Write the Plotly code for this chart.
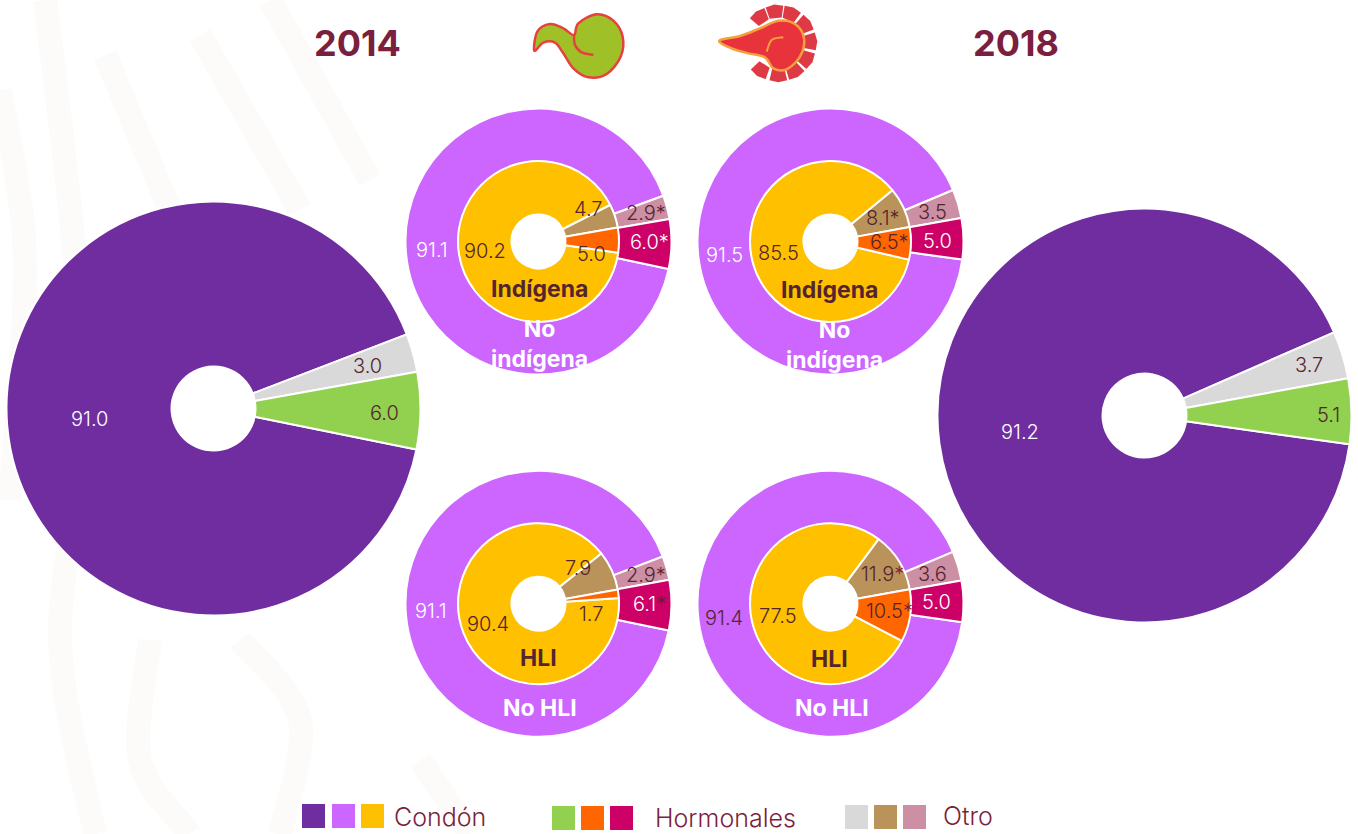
import math
import plotly.graph_objects as go

W, H = 1358, 834
FONT = "Inter"
DARK = "#55252F"
WINE = "#7A1F3D"

PURPLE, LILAC, YELLOW = "#6F2DA0", "#CC66FF", "#FFC000"
GREEN, ORANGE, MAGENTA = "#92D050", "#FF6600", "#CC0066"
GRAY, TAN, PINK = "#D9D9D9", "#BA935A", "#CC8FA3"

# ---- data -------------------------------------------------------------
total_2014 = [91.0, 3.0, 6.0]
total_2018 = [91.2, 3.7, 5.1]
noind_2014 = [91.1, 2.9, 6.0]
ind_2014 = [90.2, 4.7, 5.0]
noind_2018 = [91.5, 3.5, 5.0]
ind_2018 = [85.5, 8.1, 6.5]
nohli_2014 = [91.1, 2.9, 6.1]
hli_2014 = [90.4, 7.9, 1.7]
nohli_2018 = [91.4, 3.6, 5.0]
hli_2018 = [77.5, 11.9, 10.5]
method_names = ["Condón", "Otro", "Hormonales"]
years = ["2014", "2018"]
legend_names = ["Condón", "Hormonales", "Otro"]

# ---- layout helpers ----------------------------------------------------
def fx(px):
    return px / W

def fy(py):
    return 1 - py / H

def pie(values, colors, cx, cy, r, hole, rot):
    return go.Pie(
        values=values, labels=method_names, sort=False, direction="clockwise",
        rotation=rot, hole=hole, textinfo="none", hoverinfo="label+value",
        marker=dict(colors=colors, line=dict(color="white", width=2)),
        domain=dict(x=[fx(cx - r), fx(cx + r)], y=[fy(cy + r), fy(cy - r)]),
        showlegend=False,
    )

def note(text, x, y, size=20, color=DARK, weight=None):
    return dict(
        text=text, x=fx(x), y=fy(y), xref="paper", yref="paper",
        xanchor="center", yanchor="middle", showarrow=False,
        font=dict(family=FONT, size=size, color=color, weight=weight),
    )

def smooth(points, closed=True, glyph=True):
    if glyph:
        pts = [(fx(500 + a / 3), fy(b / 3)) for a, b in points]
    else:
        pts = [(fx(a), fy(b)) for a, b in points]
    n = len(pts)
    s = f"M{pts[0][0]:.5f},{pts[0][1]:.5f}"
    for i in range(n if closed else n - 1):
        if closed:
            p0, p1, p2, p3 = pts[(i - 1) % n], pts[i], pts[(i + 1) % n], pts[(i + 2) % n]
        else:
            p0, p1, p2, p3 = pts[max(i - 1, 0)], pts[i], pts[i + 1], pts[min(i + 2, n - 1)]
        c1 = (p1[0] + (p2[0] - p0[0]) / 6, p1[1] + (p2[1] - p0[1]) / 6)
        c2 = (p2[0] - (p3[0] - p1[0]) / 6, p2[1] - (p3[1] - p1[1]) / 6)
        s += f"C{c1[0]:.5f},{c1[1]:.5f} {c2[0]:.5f},{c2[1]:.5f} {p2[0]:.5f},{p2[1]:.5f}"
    return s + ("Z" if closed else "")

# ---- pies --------------------------------------------------------------
traces = [
    pie(total_2014, [PURPLE, GRAY, GREEN], 213.5, 408.5, 207, 42 / 207, 101.4),
    pie(total_2018, [PURPLE, GRAY, GREEN], 1144.5, 415.5, 207, 42 / 207, 98),
    pie(noind_2014, [LILAC, PINK, MAGENTA], 538.5, 241.5, 133, 80 / 133, 101.9),
    pie(ind_2014, [YELLOW, TAN, ORANGE], 538.5, 241.5, 80.5, 27 / 80.5, 98),
    pie(noind_2018, [LILAC, PINK, MAGENTA], 830.5, 241.5, 133, 80 / 133, 97.8),
    pie(ind_2018, [YELLOW, TAN, ORANGE], 830.5, 241.5, 80.5, 27 / 80.5, 103),
    pie(nohli_2014, [LILAC, PINK, MAGENTA], 538.5, 603.7, 133, 80 / 133, 101.6),
    pie(hli_2014, [YELLOW, TAN, ORANGE], 538.5, 603.7, 80.5, 27 / 80.5, 86),
    pie(nohli_2018, [LILAC, PINK, MAGENTA], 830.5, 603.7, 133, 80 / 133, 98),
    pie(hli_2018, [YELLOW, TAN, ORANGE], 830.5, 603.7, 80.5, 27 / 80.5, 117.5),
]

fig = go.Figure(traces)

# ---- value labels (values, pixel placement, colour, asterisk colour) ---
WHITE = "#FFFFFF"
def put(values, places):
    out = []
    for v, place in zip(values, places):
        x, y, col = place[:3]
        txt = f"{v:.1f}"
        if len(place) > 3:
            txt += f"<span style='color:{place[3]}'>*</span>"
        out.append(note(txt, x, y, 20, col, weight=300))
    return out

ann = []
ann += put(total_2014, [(89, 419, WHITE), (367, 366, DARK), (384, 413, DARK)])
ann += put(total_2018, [(1020, 432, WHITE), (1309, 365, DARK), (1328, 415, DARK)])
ann += put(noind_2014, [(432, 250, WHITE), (646, 213, DARK, DARK), (649, 242, WHITE, WHITE)])
ann += put(ind_2014, [(485, 251, DARK), (588, 209, DARK), (591, 254, DARK)])
ann += put(noind_2018, [(724, 255, WHITE), (932, 212, DARK), (937, 241, WHITE)])
ann += put(ind_2018, [(778, 253, DARK), (883, 218, DARK, DARK), (889, 242, DARK, DARK)])
ann += put(nohli_2014, [(431, 611, WHITE), (646, 575, DARK, DARK), (649, 604, WHITE, DARK)])
ann += put(hli_2014, [(488, 624, DARK), (578, 568, DARK), (591, 614, DARK)])
ann += put(nohli_2018, [(724, 618, DARK), (932, 574, DARK), (936, 602, WHITE)])
ann += put(hli_2018, [(778, 616, DARK), (882, 574, DARK, WINE), (889, 611, DARK, WINE)])

# group names
for txt, x, y, col in [
    ("Indígena", 539, 289, DARK), ("No<br>indígena", 539, 344, WHITE),
    ("Indígena", 829, 290, DARK), ("No<br>indígena", 834, 344.5, WHITE),
    ("HLI", 538, 658, DARK), ("No HLI", 540, 708, WHITE),
    ("HLI", 829, 659, DARK), ("No HLI", 832, 708, WHITE),
]:
    ann.append(note(txt, x, y, 23, col, weight=700))

# years
ann.append(note(years[0], 357, 43, 36, WINE, weight=700))
ann.append(note(years[1], 1016, 43, 36, WINE, weight=700))

# legend text
for txt, x, y in zip(legend_names, [440, 725, 968], [817, 817.5, 816]):
    ann.append(note(txt, x, y, 25, WINE, weight=300))

# ---- shapes ------------------------------------------------------------
shapes = []

# faint watermark
for pts in [
    [(45, 0), (70, 210), (85, 420), (60, 640), (95, 834)],
    [(105, 55), (170, 210)],
    [(200, 35), (300, 210)],
    [(270, 0), (370, 180)],
    [(0, 90), (25, 260), (10, 500)],
    [(240, 640), (300, 720), (280, 834)],
    [(420, 760), (470, 834)],
    [(150, 640), (140, 760), (190, 834)],
]:
    shapes.append(dict(type="path", path=smooth(pts, closed=False, glyph=False),
                       xref="paper", yref="paper", layer="below",
                       line=dict(color="rgba(235,215,190,0.09)", width=24)))

# legend squares
for x0, y0, col in [
    (302, 804, PURPLE), (332, 804, LILAC), (361, 804, YELLOW),
    (552, 806, GREEN), (581, 806, ORANGE), (610, 806, MAGENTA),
    (845, 805, GRAY), (874, 805, TAN), (903, 805, PINK),
]:
    shapes.append(dict(type="rect", xref="paper", yref="paper", x0=fx(x0), x1=fx(x0 + 23),
                       y0=fy(y0 + 24), y1=fy(y0), fillcolor=col, line=dict(width=0)))

# green speech glyph
shapes.append(dict(type="path", xref="paper", yref="paper", fillcolor="#9FC127",
    line=dict(color="#E8403E", width=2.5),
    path=smooth([(103, 152), (112, 95), (150, 72), (190, 85), (222, 105), (235, 70), (290, 43),
                 (340, 62), (368, 110), (362, 170), (320, 222), (265, 232), (220, 205),
                 (190, 160), (165, 128), (130, 128)])))
shapes.append(dict(type="path", xref="paper", yref="paper",
    line=dict(color="#E8403E", width=2.5),
    path=smooth([(222, 105), (225, 135), (245, 157), (280, 165)], closed=False)))

# red speech glyph, with its ring of blocks
cx, cy = 500 + 835 / 3, 130 / 3
for ang in [-35, -6, 23, 55, 87, 119, 150, 180, 213]:
    poly = []
    for a, r in [(ang - 13.5, 26), (ang - 13.5, 38), (ang, 39), (ang + 13.5, 38), (ang + 13.5, 26)]:
        t = math.radians(a)
        poly.append((cx + r * math.sin(t), cy - r * math.cos(t)))
    d = "M" + "L".join(f"{fx(a):.5f},{fy(b):.5f}" for a, b in poly) + "Z"
    shapes.append(dict(type="path", path=d, xref="paper", yref="paper",
                       fillcolor="#DE3A45", line=dict(width=0)))
shapes.append(dict(type="path", xref="paper", yref="paper", fillcolor="#E8323C",
    line=dict(color="#F5A03C", width=2.5),
    path=smooth([(658, 122), (720, 108), (780, 85), (835, 62), (885, 72), (912, 115), (900, 170),
                 (860, 208), (820, 205), (795, 172), (745, 160), (695, 145)])))
shapes.append(dict(type="path", xref="paper", yref="paper",
    line=dict(color="#F5A03C", width=2),
    path=smooth([(850, 112), (815, 120), (800, 155)], closed=False)))

fig.update_layout(
    width=W, height=H, autosize=False,
    margin=dict(l=0, r=0, t=0, b=0),
    paper_bgcolor="white", plot_bgcolor="white",
    annotations=ann, shapes=shapes,
    font=dict(family=FONT, color=DARK),
)

fig.write_html("out.html", config=dict(displayModeBar=False),
               post_script="document.body.style.margin='0';document.body.style.overflow='hidden';")
